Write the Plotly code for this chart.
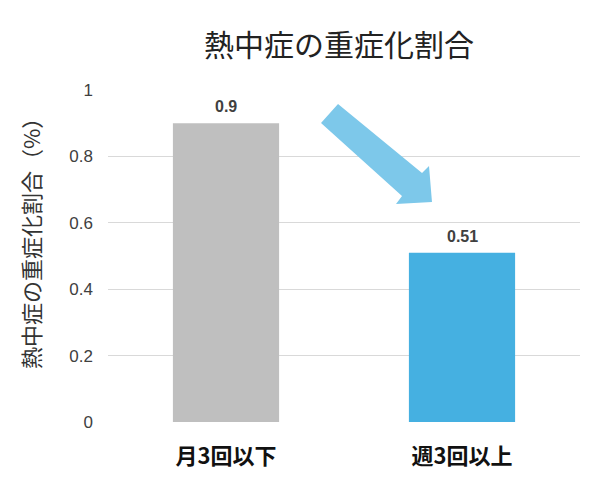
import plotly.graph_objects as go

# 熱中症の重症化割合
categories = ["月3回以下", "週3回以上"]
values = [0.9, 0.51]
bar_colors = ["#bfbfbf", "#45b0e1"]
y_ticks = [0, 0.2, 0.4, 0.6, 0.8, 1]
y_tick_labels = ["0", "0.2", "0.4", "0.6", "0.8", "1"]

jp = "Noto Sans CJK JP"
num = "Liberation Sans"

# ページの body margin (8px) を差し引く
OFF = 8
W, H = 600, 488
L, R, T, B = 108, 580, 90, 422   # 画面上のプロット領域


def px(x, y):
    return (x - L) / (R - L), (B - y) / (B - T)


fig = go.Figure(go.Bar(
    x=categories, y=values,
    marker=dict(color=bar_colors, line=dict(width=0))))

# 値ラベル
for c, v in zip(categories, values):
    fig.add_annotation(x=c, y=v, text=f"<b>{v}</b>", showarrow=False,
                       yanchor="bottom", yshift=6,
                       font=dict(family=num, size=16, color="#404040"))

# 縦軸タイトル
tx, ty = px(30, 238)
fig.add_annotation(x=tx, y=ty, xref="paper", yref="paper", text="熱中症の重症化割合（%）",
                   textangle=-90, showarrow=False, xanchor="center", yanchor="middle",
                   font=dict(family=jp, size=22, color="#333333"))

# 矢印
pts = [(321, 123), (338, 104), (422, 173), (429, 166), (432, 202), (396, 204), (402, 196)]
path = ""
for i, (a, b) in enumerate(pts):
    u, v = px(a, b)
    path += ("M" if i == 0 else "L") + f"{u:.4f},{v:.4f} "
path += "Z"

fig.add_shape(type="path", path=path, xref="paper", yref="paper",
              fillcolor="#7dc8ea", line=dict(width=0), layer="above")

fig.update_layout(
    width=W, height=H,
    margin=dict(l=L - OFF, r=W - R + OFF, t=T - OFF, b=H - B + OFF, autoexpand=False),
    paper_bgcolor="white", plot_bgcolor="white",
    title=dict(text="熱中症の重症化割合", x=(339 - OFF) / W, xanchor="center",
               y=1 - (45 - OFF) / H, yanchor="middle",
               font=dict(family=jp, size=30, color="#222222")),
    bargap=0.55,
    showlegend=False,
    xaxis=dict(tickfont=dict(family=jp, size=22, color="#111111", weight="bold"),
               showline=False, ticks="", ticklabelstandoff=19, automargin=False),
    yaxis=dict(range=[0, 1], tickvals=y_ticks, ticktext=y_tick_labels,
               tickfont=dict(family=num, size=17, color="#404040"),
               gridcolor="#d9d9d9", gridwidth=1, zeroline=False, showline=False,
               ticklabelstandoff=14, automargin=False),
)

fig.write_html("out.html")
